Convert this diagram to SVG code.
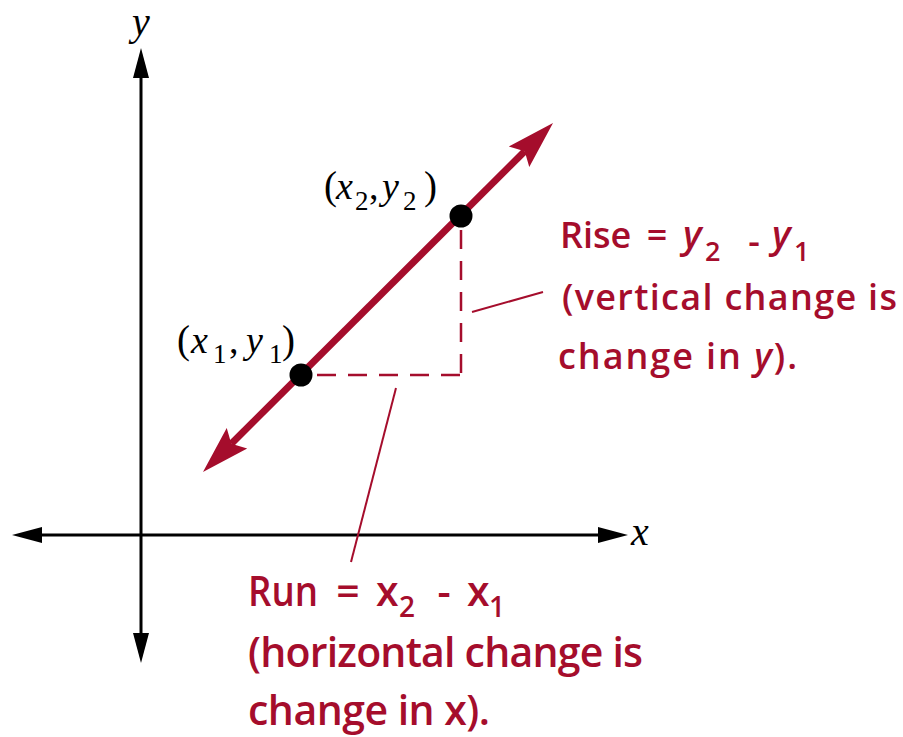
<svg xmlns="http://www.w3.org/2000/svg" width="903" height="737" viewBox="0 0 903 737">
<style>
.axis{stroke:#000;stroke-width:3;fill:none}
.redline{stroke:#A50D2C;stroke-width:7;fill:none}
.dash{stroke:#A50D2C;stroke-width:2.5;fill:none;stroke-dasharray:19 12}
.lead{stroke:#A50D2C;stroke-width:2;fill:none}
.serif{font-family:"Liberation Serif","Times New Roman",serif;fill:#000}
.it{font-style:italic}
.hand{font-family:"Open Sans","Noto Sans",sans-serif;font-weight:600;fill:#A50D2C}
</style>
<defs>
<marker id="blk" viewBox="0 -10 32 20" markerWidth="32" markerHeight="20" refX="0" refY="0" markerUnits="userSpaceOnUse" orient="auto-start-reverse">
<path d="M0,-8 L30,0 L0,8 Z" fill="#000"/>
</marker>
<marker id="red" viewBox="-10 -16 52 32" markerWidth="52" markerHeight="32" refX="0" refY="0" markerUnits="userSpaceOnUse" orient="auto-start-reverse">
<path d="M-8,-14.5 L40,0 L-8,14.5 L0,0 Z" fill="#A50D2C"/>
</marker>
</defs>
<g id="connectors">
<line id="y-axis" class="axis" x1="141" y1="78" x2="141" y2="633" marker-start="url(#blk)" marker-end="url(#blk)"/>
<line id="x-axis" class="axis" x1="42" y1="535" x2="598" y2="535" marker-start="url(#blk)" marker-end="url(#blk)"/>
<line id="slope-line" class="redline" x1="231.3" y1="443.8" x2="524.7" y2="151.2" marker-start="url(#red)" marker-end="url(#red)"/>
<path id="rise-dash" class="dash" d="M461,230 V375"/>
<path id="run-dash" class="dash" d="M317,375 H461"/>
<line id="rise-leader" class="lead" x1="472" y1="312" x2="543" y2="292"/>
<line id="run-leader" class="lead" x1="396" y1="388" x2="351" y2="562"/>
</g>
<g id="axis-labels">
<text class="serif it" x="132" y="35" font-size="40">y</text>
<text class="serif it" x="631" y="545" font-size="40">x</text>
</g>
<g id="point2">
<circle cx="461" cy="216" r="11.5" fill="#000"/>
<text class="serif" font-size="39" x="324" y="199">(</text>
<text class="serif it" font-size="38" x="336" y="199">x</text>
<text class="serif" font-size="27" x="355" y="210">2</text>
<text class="serif" font-size="38" x="369" y="199">,</text>
<text class="serif it" font-size="38" x="382" y="199">y</text>
<text class="serif" font-size="27" x="403" y="210">2</text>
<text class="serif" font-size="39" x="424" y="199">)</text>
</g>
<g id="point1">
<circle cx="301" cy="375" r="11.5" fill="#000"/>
<text class="serif" font-size="39" x="177" y="353">(</text>
<text class="serif it" font-size="38" x="191" y="353">x</text>
<text class="serif" font-size="27" x="213" y="363">1</text>
<text class="serif" font-size="38" x="229" y="353">,</text>
<text class="serif it" font-size="38" x="246" y="353">y</text>
<text class="serif" font-size="27" x="269" y="363">1</text>
<text class="serif" font-size="39" x="282" y="353">)</text>
</g>
<g id="rise-label" class="hand" font-size="36">
<text x="560" y="248">Rise</text>
<text x="657" y="248" text-anchor="middle">=</text>
<text x="683" y="248" font-style="italic" font-size="38">y</text>
<text x="705" y="261" font-size="27">2</text>
<text x="754" y="254" text-anchor="middle">-</text>
<text x="772" y="248" font-style="italic" font-size="38">y</text>
<text x="794" y="261" font-size="27">1</text>
<text x="562" y="310" textLength="335" lengthAdjust="spacing">(vertical change is</text>
<text x="558" y="369" textLength="239" lengthAdjust="spacing">change in <tspan font-style="italic">y</tspan>).</text>
</g>
<g id="run-label" class="hand" font-size="41">
<text x="248" y="606" textLength="70" lengthAdjust="spacingAndGlyphs">Run</text>
<text x="348" y="606" text-anchor="middle">=</text>
<text x="376" y="606">x</text>
<text x="399" y="617" font-size="28">2</text>
<text x="444" y="606" text-anchor="middle">-</text>
<text x="467" y="606">x</text>
<text x="489" y="617" font-size="28">1</text>
<text x="248" y="667" textLength="395" lengthAdjust="spacing">(horizontal change is</text>
<text x="248" y="725" textLength="242" lengthAdjust="spacing">change in x).</text>
</g>
</svg>
